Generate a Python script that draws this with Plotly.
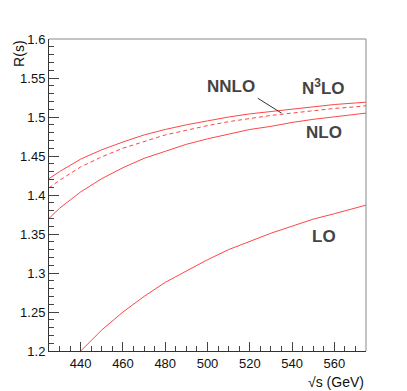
import plotly.graph_objects as go

# sqrt(s) in GeV
sqrt_s = [425, 430, 440, 450, 460, 470, 480, 490, 500, 510, 520, 530, 540, 550, 560, 570, 575]

# R(s)
r_lo = [1.151, 1.169, 1.200, 1.227, 1.250, 1.270, 1.288, 1.303, 1.317, 1.330, 1.341,
        1.351, 1.360, 1.369, 1.376, 1.384, 1.387]
r_nlo = [1.370, 1.383, 1.404, 1.421, 1.435, 1.447, 1.456, 1.465, 1.472, 1.478, 1.484,
         1.488, 1.493, 1.497, 1.500, 1.503, 1.505]
r_nnlo = [1.409, 1.419, 1.436, 1.449, 1.460, 1.469, 1.477, 1.483, 1.489, 1.494, 1.498,
          1.502, 1.505, 1.508, 1.511, 1.513, 1.5145]
r_n3lo = [1.421, 1.430, 1.446, 1.458, 1.468, 1.477, 1.484, 1.490, 1.495, 1.500, 1.504,
          1.507, 1.510, 1.513, 1.516, 1.518, 1.519]

y_ticks = [1.2, 1.25, 1.3, 1.35, 1.4, 1.45, 1.5, 1.55, 1.6]
y_ticktext = ["1.2", "1.25", "1.3", "1.35", "1.4", "1.45", "1.5", "1.55", "1.6"]
x_ticks = [440, 460, 480, 500, 520, 540, 560]

RED = "rgb(255,70,70)"
TXT = "#444444"
FONT = "Liberation Sans, Arial, sans-serif"

fig = go.Figure()
for ys, dash in [(r_lo, "solid"), (r_nlo, "solid"), (r_nnlo, "4px,3px"), (r_n3lo, "solid")]:
    fig.add_trace(go.Scatter(
        x=sqrt_s, y=ys, mode="lines",
        line=dict(color=RED, width=1, dash=dash),
        showlegend=False, hoverinfo="skip",
    ))

# curve labels
labels = [("NNLO", 511, 1.5385), ("N<sup>3</sup>LO", 555, 1.5385),
          ("NLO", 555, 1.4795), ("LO", 555, 1.347)]
for txt, lx, ly in labels:
    fig.add_annotation(x=lx, y=ly, text=txt, showarrow=False,
                       font=dict(family=FONT, size=17, color=TXT, weight="bold"))

# pointer from NNLO label to dashed curve
fig.add_shape(type="line", x0=523.8, y0=1.524, x1=535.0, y1=1.505,
              line=dict(color="#333333", width=1))

# top / right frame
fig.add_shape(type="line", xref="paper", yref="paper", x0=0, x1=1, y0=1, y1=1,
              line=dict(color="#888888", width=1))
fig.add_shape(type="line", xref="paper", yref="paper", x0=1, x1=1, y0=0, y1=1,
              line=dict(color="#888888", width=1))

# axis titles
fig.add_annotation(xref="paper", yref="paper", x=-0.095, y=1.0, xanchor="center",
                   yanchor="top", text="R(s)", textangle=-90, showarrow=False,
                   font=dict(family=FONT, size=14, color="#111111"))
fig.add_annotation(xref="paper", yref="paper", x=1.0, y=-0.1, xanchor="right",
                   yanchor="middle", text="√s (GeV)", showarrow=False,
                   font=dict(family=FONT, size=14, color="#111111"))

# page body adds an 8px offset, so the figure is 8px smaller
fig.update_layout(
    width=399, height=383,
    margin=dict(l=33, r=41, t=31, b=40),
    paper_bgcolor="white", plot_bgcolor="white",
    font=dict(family=FONT, size=13, color="#111111"),
    xaxis=dict(range=[425, 575], tickvals=x_ticks, ticks="inside", ticklen=9,
               tickcolor="#444444", showline=True, linecolor="#333333",
               showgrid=False, zeroline=False,
               minor=dict(dtick=5, tick0=425, ticks="inside", ticklen=5,
                          tickcolor="#444444")),
    yaxis=dict(range=[1.2, 1.6], tickvals=y_ticks, ticktext=y_ticktext,
               ticks="inside", ticklen=10, tickcolor="#444444", showline=True,
               linecolor="#333333", showgrid=False, zeroline=False,
               minor=dict(dtick=0.01, tick0=1.2, ticks="inside", ticklen=5,
                          tickcolor="#444444")),
)

fig.write_html("out.html")
